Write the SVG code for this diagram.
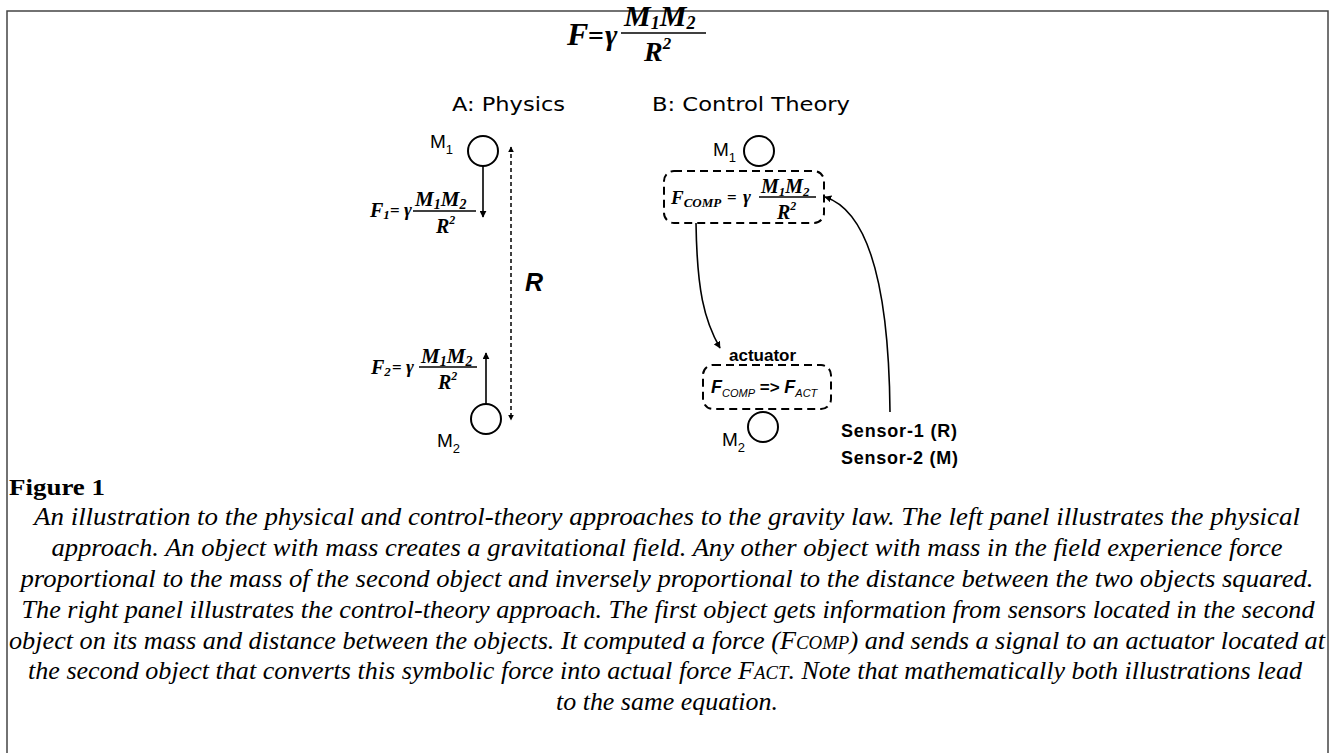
<svg xmlns="http://www.w3.org/2000/svg" width="1333" height="753" viewBox="0 0 1333 753">
<defs>
<style>
.fm{font-family:"Liberation Serif",serif;font-weight:bold;font-style:italic;fill:#000}
.fmn{font-family:"Liberation Serif",serif;font-weight:bold;fill:#000}
.lbl{font-family:"Liberation Sans",Arial,sans-serif;fill:#000}
.hd{font-family:"DejaVu Sans",sans-serif;font-size:19px;fill:#000}
.cap{font-family:"Liberation Serif",serif;font-style:italic;font-size:25px;fill:#000}
.ln{stroke:#000;stroke-width:1.6;fill:none}
.dbox{stroke:#000;stroke-width:2;stroke-dasharray:8 5;fill:none}
.frac{stroke:#000;stroke-width:1.3}
</style>
<marker id="ah" viewBox="0 0 10 10" refX="9" refY="5" markerWidth="7" markerHeight="7" orient="auto" markerUnits="userSpaceOnUse">
<path d="M0,0 L10,5 L0,10 z" fill="#000"/>
</marker>
<marker id="ahs" viewBox="0 0 10 10" refX="9" refY="5" markerWidth="6" markerHeight="6" orient="auto-start-reverse" markerUnits="userSpaceOnUse">
<path d="M0,0 L10,5 L0,10 z" fill="#000"/>
</marker>
</defs>
<rect x="0" y="0" width="1333" height="753" fill="#fff"/>
<rect x="7" y="11" width="1321" height="760" fill="none" stroke="#444" stroke-width="1.5"/>

<g id="title-formula">
<text class="fm" x="567" y="45" font-size="32">F</text>
<text class="fmn" x="588" y="45" font-size="28">=</text>
<text class="fm" x="605" y="45" font-size="30">γ</text>
<text class="fm" x="624" y="26" font-size="30">M<tspan font-size="18" dy="3">1</tspan><tspan dy="-3">M</tspan><tspan font-size="18" dy="3">2</tspan></text>
<line class="frac" x1="621" y1="33" x2="706" y2="33"/>
<text class="fm" x="644" y="61" font-size="28">R<tspan font-size="17" dy="-12">2</tspan></text>
</g>

<g id="headings">
<text class="hd" x="452" y="111" textLength="113" lengthAdjust="spacingAndGlyphs">A: Physics</text>
<text class="hd" x="652" y="111" textLength="198" lengthAdjust="spacingAndGlyphs">B: Control Theory</text>
</g>

<g id="A-M1">
<circle cx="483" cy="151" r="15" fill="#fff" stroke="#000" stroke-width="2"/>
<text class="lbl" x="430" y="148" font-size="19">M<tspan font-size="13" dy="6">1</tspan></text>
</g>

<g id="A-F1">
<text class="fm" x="370" y="217" font-size="20">F<tspan font-size="13" dy="2">1</tspan></text>
<text class="fmn" x="390" y="216" font-size="17">=</text>
<text class="fm" x="404" y="216" font-size="19">γ</text>
<text class="fm" x="415" y="206" font-size="21">M<tspan font-size="14" dy="3">1</tspan><tspan dy="-3">M</tspan><tspan font-size="14" dy="3">2</tspan></text>
<line class="frac" x1="413" y1="211" x2="476" y2="211"/>
<text class="fm" x="436" y="233" font-size="20">R<tspan font-size="12" dy="-9">2</tspan></text>
</g>

<g id="A-F2">
<text class="fm" x="371" y="374" font-size="20">F<tspan font-size="13" dy="2">2</tspan></text>
<text class="fmn" x="392" y="373" font-size="17">=</text>
<text class="fm" x="406" y="373" font-size="19">γ</text>
<text class="fm" x="421" y="363" font-size="21">M<tspan font-size="14" dy="3">1</tspan><tspan dy="-3">M</tspan><tspan font-size="14" dy="3">2</tspan></text>
<line class="frac" x1="419" y1="367" x2="477" y2="367"/>
<text class="fm" x="438" y="389" font-size="20">R<tspan font-size="12" dy="-9">2</tspan></text>
</g>

<g id="A-M2">
<circle cx="486" cy="419" r="15" fill="#fff" stroke="#000" stroke-width="2"/>
<text class="lbl" x="437" y="447" font-size="19">M<tspan font-size="13" dy="6">2</tspan></text>
</g>

<g id="A-R">
<text x="525" y="291" font-family="Liberation Sans, Arial, sans-serif" font-weight="bold" font-style="italic" font-size="25">R</text>
</g>

<g id="B-M1">
<circle cx="759" cy="151" r="15" fill="#fff" stroke="#000" stroke-width="2"/>
<text class="lbl" x="713" y="156" font-size="19">M<tspan font-size="13" dy="6">1</tspan></text>
</g>

<g id="B-compute">
<rect class="dbox" x="664" y="171" width="160" height="52" rx="10"/>
<text class="fm" x="671" y="204" font-size="19">F<tspan font-size="13" dy="3">COMP</tspan></text>
<text class="fmn" x="727" y="203" font-size="17">=</text>
<text class="fm" x="743" y="203" font-size="19">γ</text>
<text class="fm" x="761" y="193" font-size="20">M<tspan font-size="13" dy="3">1</tspan><tspan dy="-3">M</tspan><tspan font-size="13" dy="3">2</tspan></text>
<line class="frac" x1="759" y1="197" x2="816" y2="197"/>
<text class="fm" x="777" y="219" font-size="20">R<tspan font-size="12" dy="-9">2</tspan></text>
</g>

<g id="B-actuator">
<text class="lbl" x="729" y="361" font-size="17" font-weight="bold">actuator</text>
<rect class="dbox" x="703" y="365" width="128" height="44" rx="10"/>
<text class="lbl" x="711" y="393" font-size="18" font-weight="bold" font-style="italic">F<tspan font-size="11" font-weight="normal" dy="4">COMP</tspan><tspan dy="-4" font-style="normal" font-size="17"> =&gt; </tspan>F<tspan font-size="11" font-weight="normal" dy="4">ACT</tspan></text>
</g>

<g id="B-M2">
<circle cx="763" cy="427" r="15" fill="#fff" stroke="#000" stroke-width="2"/>
<text class="lbl" x="722" y="446" font-size="19">M<tspan font-size="13" dy="6">2</tspan></text>
</g>

<g id="B-sensors">
<text class="lbl" x="841" y="437" font-size="18" font-weight="bold" textLength="116">Sensor-1 (R)</text>
<text class="lbl" x="841" y="464" font-size="18" font-weight="bold" textLength="117">Sensor-2 (M)</text>
</g>

<g id="connectors">
<line class="ln" x1="483" y1="166" x2="483" y2="217" marker-end="url(#ah)"/>
<line class="ln" x1="486" y1="404" x2="486" y2="353" marker-end="url(#ah)"/>
<line x1="511" y1="147" x2="511" y2="420" stroke="#000" stroke-width="1.5" stroke-dasharray="4 3" marker-start="url(#ahs)" marker-end="url(#ahs)"/>
<path class="ln" d="M696,223 C697,290 704,320 720,348" marker-end="url(#ah)"/>
<path class="ln" d="M890,412 C889,300 872,212 825,197" marker-end="url(#ah)"/>
</g>

<g id="caption">
<text x="9" y="495" font-family="Liberation Serif, serif" font-weight="bold" font-size="24" textLength="96" lengthAdjust="spacingAndGlyphs">Figure 1</text>
<text class="cap" x="667" y="525" text-anchor="middle" textLength="1266" lengthAdjust="spacingAndGlyphs">An illustration to the physical and control-theory approaches to the gravity law. The left panel illustrates the physical</text>
<text class="cap" x="667" y="556" text-anchor="middle" textLength="1231" lengthAdjust="spacingAndGlyphs">approach. An object with mass creates a gravitational field. Any other object with mass in the field experience force</text>
<text class="cap" x="667" y="587" text-anchor="middle" textLength="1293" lengthAdjust="spacingAndGlyphs">proportional to the mass of the second object and inversely proportional to the distance between the two objects squared.</text>
<text class="cap" x="668" y="618" text-anchor="middle" textLength="1293" lengthAdjust="spacingAndGlyphs">The right panel illustrates the control-theory approach. The first object gets information from sensors located in the second</text>
<text class="cap" x="667" y="649" text-anchor="middle" textLength="1316" lengthAdjust="spacingAndGlyphs">object on its mass and distance between the objects. It computed a force (F<tspan font-size="18">COMP</tspan>) and sends a signal to an actuator located at</text>
<text class="cap" x="665" y="679" text-anchor="middle" textLength="1274" lengthAdjust="spacingAndGlyphs">the second object that converts this symbolic force into actual force F<tspan font-size="18">ACT</tspan>. Note that mathematically both illustrations lead</text>
<text class="cap" x="667" y="710" text-anchor="middle" textLength="222" lengthAdjust="spacingAndGlyphs">to the same equation.</text>
</g>
</svg>
